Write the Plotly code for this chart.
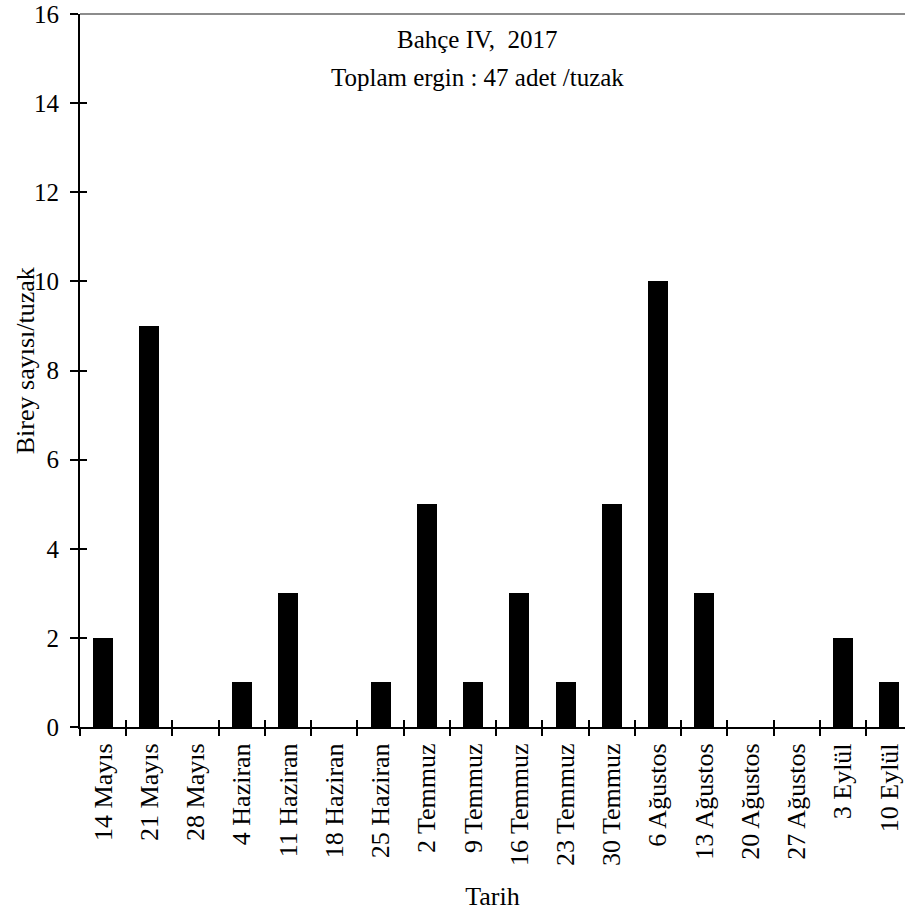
import plotly.graph_objects as go

# Weekly trap catches, orchard IV, 2017
dates = ["14 Mayıs", "21 Mayıs", "28 Mayıs", "4 Haziran", "11 Haziran", "18 Haziran",
         "25 Haziran", "2 Temmuz", "9 Temmuz", "16 Temmuz", "23 Temmuz", "30 Temmuz",
         "6 Ağustos", "13 Ağustos", "20 Ağustos", "27 Ağustos", "3 Eylül", "10 Eylül"]
counts = [2, 9, 0, 1, 3, 0, 1, 5, 1, 3, 1, 5, 10, 3, 0, 0, 2, 1]
y_ticks = [0, 2, 4, 6, 8, 10, 12, 14, 16]

FONT = "Liberation Serif"
x_range = [-0.5, 17.34]
y_range = [0, 16]

fig = go.Figure()
fig.add_trace(go.Bar(x=dates, y=counts, width=0.43,
                     marker=dict(color="black", line=dict(width=0)),
                     showlegend=False))
# transparent copy so the overlay axes (inner tick halves) are drawn
fig.add_trace(go.Bar(x=dates, y=counts, width=0.43, xaxis="x2", yaxis="y2",
                     marker=dict(color="rgba(0,0,0,0)", line=dict(width=0)),
                     hoverinfo="skip", showlegend=False))

fig.update_layout(
    width=905, height=916,
    margin=dict(l=80, r=0, t=14, b=189),
    paper_bgcolor="white", plot_bgcolor="white",
    font=dict(family=FONT, size=26, color="black"),
    xaxis=dict(type="category", categoryorder="array", categoryarray=dates,
               range=x_range, showline=True, linecolor="black", linewidth=2,
               ticks="outside", tickson="boundaries", ticklen=7, tickwidth=2,
               tickcolor="black", tickangle=-90, showgrid=False, zeroline=False,
               ticklabelstandoff=4, tickfont=dict(size=26),
               title=dict(text="Tarih", font=dict(size=26), standoff=22)),
    yaxis=dict(range=y_range, tickvals=y_ticks, showline=True, linecolor="black",
               linewidth=2, ticks="outside", ticklen=8, tickwidth=2, tickcolor="black",
               showgrid=False, zeroline=False, ticklabelstandoff=6,
               tickfont=dict(size=25)),
    xaxis2=dict(type="category", categoryorder="array", categoryarray=dates,
                range=x_range, overlaying="x", ticks="inside", tickson="boundaries",
                ticklen=7, tickwidth=2, tickcolor="black", showticklabels=False,
                showline=False, showgrid=False, zeroline=False),
    yaxis2=dict(range=y_range, tickvals=y_ticks, overlaying="y", anchor="x2",
                ticks="inside", ticklen=7, tickwidth=2, tickcolor="black",
                showticklabels=False, showline=False, showgrid=False, zeroline=False),
    bargap=0,
    shapes=[dict(type="line", xref="paper", yref="paper", x0=0, x1=1, y0=1, y1=1,
                 line=dict(color="#8c8c8c", width=2))],
    annotations=[
        dict(text="Birey sayısı/tuzak", xref="paper", yref="paper", x=0, y=0.513,
             xshift=-55, textangle=-90, showarrow=False, font=dict(size=26),
             xanchor="center", yanchor="middle"),
        dict(text="Bahçe IV,  2017", xref="paper", yref="paper", x=0.482, y=0.964,
             showarrow=False, font=dict(size=25), xanchor="center", yanchor="middle"),
        dict(text="Toplam ergin : 47 adet /tuzak", xref="paper", yref="paper",
             x=0.482, y=0.911, showarrow=False, font=dict(size=25),
             xanchor="center", yanchor="middle"),
    ],
)

fig.write_html("out.html")
